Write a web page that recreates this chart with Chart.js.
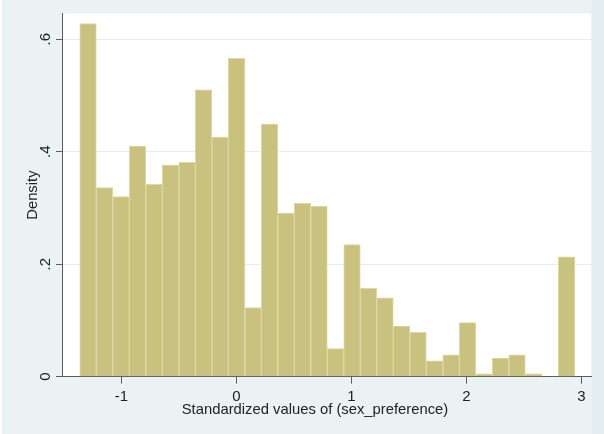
<!DOCTYPE html>
<html>
<head>
<meta charset="utf-8">
<title>Density of standardized sex_preference</title>
<script src="https://cdn.jsdelivr.net/npm/chart.js@4/dist/chart.umd.min.js"></script>
<style>
  html, body { margin: 0; padding: 0; background: #eaf2f3; }
  #wrap { position: relative; width: 604px; height: 434px; }
  canvas { display: block; }
</style>
</head>
<body>
<div id="wrap"><canvas id="hist" width="604" height="434"></canvas></div>
<script>
// Histogram bins: lower edge of the first bin and common bin width
const binStart = -1.362;
const binWidth = 0.1435;

// Density of each of the 30 bins
const density = [
  0.628, 0.336, 0.320, 0.410, 0.342, 0.376, 0.381, 0.510, 0.426, 0.566,
  0.123, 0.449, 0.291, 0.308, 0.303, 0.050, 0.235, 0.157, 0.140, 0.090,
  0.079, 0.028, 0.039, 0.096, 0.005, 0.033, 0.039, 0.005, 0.000, 0.213
];

// Axis ticks and labels
const xTicks = [-1, 0, 1, 2, 3];
const xTickLabels = ['-1', '0', '1', '2', '3'];
const yTicks = [0, 0.2, 0.4, 0.6];
const yTickLabels = ['0', '.2', '.4', '.6'];

const xTitle = 'Standardized values of (sex_preference)';
const yTitle = 'Density';

const points = density.map((d, i) => ({ x: binStart + binWidth * (i + 0.5), y: d }));

const FONT = '"Liberation Sans", Arial, Helvetica, sans-serif';
const TEXT = '#222222';
const AXIS = '#5c5c5c';

// Graph region, plot region and the hand-placed text (rotated y labels, titles)
const stataFrame = {
  id: 'stataFrame',
  beforeDraw(chart) {
    const { ctx, chartArea: a } = chart;
    ctx.save();
    ctx.fillStyle = '#eaf2f3';
    ctx.fillRect(0, 0, chart.width, chart.height);
    ctx.fillStyle = '#e5eef0';
    ctx.fillRect(592, 0, chart.width - 592, chart.height);
    ctx.fillStyle = '#ffffff';
    ctx.fillRect(0, 0, 2, chart.height);
    ctx.fillRect(a.left, a.top, a.right - a.left, a.bottom - a.top);
    ctx.restore();
  },
  afterDraw(chart) {
    const { ctx, scales } = chart;
    const xs = scales.x, ys = scales.y;
    ctx.save();
    ctx.fillStyle = TEXT;

    // x tick labels
    ctx.font = '15px ' + FONT;
    ctx.textAlign = 'center';
    ctx.textBaseline = 'alphabetic';
    xTicks.forEach((v, i) => {
      ctx.fillText(xTickLabels[i], xs.getPixelForValue(v), 401);
    });

    // y tick labels, rotated to read upward
    yTicks.forEach((v, i) => {
      ctx.save();
      ctx.translate(50, ys.getPixelForValue(v));
      ctx.rotate(-Math.PI / 2);
      ctx.textAlign = 'center';
      ctx.textBaseline = 'alphabetic';
      ctx.fillText(yTickLabels[i], 0, 0);
      ctx.restore();
    });

    // axis titles
    ctx.font = '14.8px ' + FONT;
    ctx.textAlign = 'center';
    ctx.textBaseline = 'alphabetic';
    ctx.fillText(xTitle, 315, 414);

    ctx.save();
    ctx.translate(37, (chart.chartArea.top + chart.chartArea.bottom) / 2);
    ctx.rotate(-Math.PI / 2);
    ctx.fillText(yTitle, 0, 0);
    ctx.restore();

    ctx.restore();
  }
};

new Chart(document.getElementById('hist'), {
  type: 'bar',
  data: {
    datasets: [{
      data: points,
      backgroundColor: '#c9c27f',
      borderColor: '#ddd9a6',
      borderWidth: 1,
      barPercentage: 1,
      categoryPercentage: 1
    }]
  },
  options: {
    responsive: false,
    animation: false,
    events: [],
    layout: { padding: { left: 56, right: 13, top: 13.5, bottom: 50.3 } },
    plugins: { legend: { display: false }, tooltip: { enabled: false } },
    scales: {
      x: {
        type: 'linear',
        min: -1.5167,
        max: 3.084,
        offset: false,
        afterBuildTicks: (s) => { s.ticks = xTicks.map(v => ({ value: v })); },
        ticks: { display: false },
        grid: {
          offset: false,
          drawOnChartArea: false,
          drawTicks: true,
          tickLength: 7,
          tickColor: AXIS,
          tickWidth: 1
        },
        border: { display: true, color: AXIS, width: 1 }
      },
      y: {
        type: 'linear',
        min: 0,
        max: 0.6457,
        afterBuildTicks: (s) => { s.ticks = yTicks.map(v => ({ value: v })); },
        ticks: { display: false },
        grid: {
          color: '#e4eef0',
          lineWidth: 1,
          drawTicks: true,
          tickLength: 6,
          tickColor: AXIS,
          tickWidth: 1
        },
        border: { display: true, color: AXIS, width: 1 }
      }
    }
  },
  plugins: [stataFrame]
});
</script>
</body>
</html>
